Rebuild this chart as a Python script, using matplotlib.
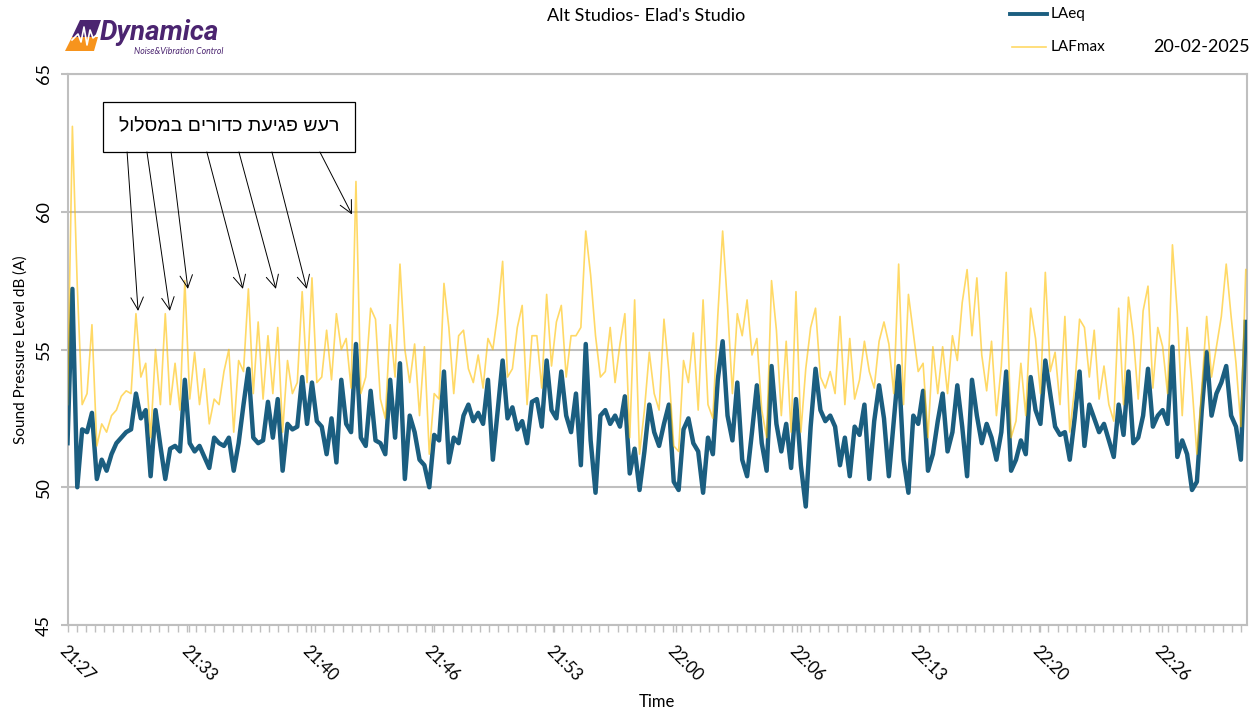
import numpy as np
import matplotlib.pyplot as plt
from matplotlib.lines import Line2D
from matplotlib.patches import Polygon

plt.rcParams['font.family'] = ['Lato', 'DejaVu Sans']

W, H = 1259, 713

# === DATA (one sample every 16 s from 21:27) ===
step_s = 16
laeq = [
    51.6, 57.2, 50.0, 52.1, 52.0, 52.7, 50.3, 51.0, 50.6, 51.2,
    51.6, 51.8, 52.0, 52.1, 53.4, 52.5, 52.8, 50.4, 52.8, 51.5,
    50.3, 51.4, 51.5, 51.3, 53.9, 51.6, 51.3, 51.5, 51.1, 50.7,
    51.8, 51.6, 51.5, 51.8, 50.6, 51.6, 53.0, 54.3, 51.8, 51.6,
    51.7, 53.1, 51.8, 53.2, 50.6, 52.3, 52.1, 52.2, 54.0, 52.3,
    53.8, 52.4, 52.2, 51.2, 52.5, 50.9, 53.9, 52.3, 52.0, 55.2,
    51.8, 51.5, 53.5, 51.7, 51.6, 51.2, 53.9, 51.8, 54.5, 50.3,
    52.6, 52.0, 51.0, 50.8, 50.0, 51.9, 51.7, 54.2, 50.9, 51.8,
    51.6, 52.6, 53.0, 52.4, 52.7, 52.3, 53.9, 51.0, 52.8, 54.6,
    52.5, 52.9, 52.1, 52.4, 51.6, 53.1, 53.2, 52.2, 54.6, 52.8,
    52.5, 54.2, 52.6, 52.0, 53.4, 50.8, 55.2, 51.7, 49.8, 52.6,
    52.8, 52.3, 52.6, 52.2, 53.3, 50.5, 51.4, 49.9, 51.3, 53.0,
    52.0, 51.5, 52.3, 53.0, 50.2, 49.9, 52.1, 52.5, 51.6, 51.3,
    49.8, 51.8, 51.2, 53.9, 55.3, 52.6, 51.7, 53.8, 51.0, 50.4,
    52.0, 53.7, 51.6, 50.6, 54.4, 52.3, 51.3, 52.3, 50.7, 53.2,
    50.8, 49.3, 52.2, 54.3, 52.8, 52.4, 52.6, 52.2, 50.8, 51.8,
    50.4, 52.2, 51.9, 53.0, 50.3, 52.4, 53.7, 52.5, 50.4, 52.4,
    54.4, 51.0, 49.8, 52.6, 52.3, 53.5, 50.6, 51.2, 52.4, 53.4,
    51.3, 52.0, 53.7, 52.2, 50.4, 53.9, 52.6, 51.6, 52.3, 51.8,
    51.0, 52.0, 54.2, 50.6, 51.0, 51.7, 51.2, 54.0, 52.8, 52.3,
    54.6, 53.4, 52.2, 51.9, 52.0, 51.0, 52.5, 54.2, 51.5, 53.0,
    52.5, 52.0, 52.3, 51.7, 51.1, 53.0, 51.9, 54.2, 51.6, 51.8,
    52.6, 54.3, 52.2, 52.6, 52.8, 52.3, 55.1, 51.1, 51.7, 51.2,
    49.9, 50.2, 52.8, 54.9, 52.6, 53.4, 53.8, 54.4, 52.6, 52.2,
    51.0, 56.0,
]
lafmax = [
    53.0, 63.1, 57.3, 53.0, 53.4, 55.9, 51.5, 52.3, 52.0, 52.6,
    52.8, 53.3, 53.5, 53.4, 56.3, 54.0, 54.5, 51.8, 55.0, 53.0,
    56.3, 53.0, 54.5, 52.8, 57.5, 53.2, 54.9, 53.0, 54.3, 52.3,
    53.2, 53.0, 54.2, 55.0, 52.0, 54.6, 54.2, 57.2, 53.4, 56.0,
    53.2, 55.5, 53.4, 55.8, 52.0, 54.6, 53.4, 53.8, 57.1, 53.8,
    57.6, 53.8, 54.0, 55.7, 53.9, 56.3, 55.0, 55.4, 53.6, 61.1,
    53.4, 54.0, 56.5, 56.1, 53.2, 52.5, 55.9, 54.0, 58.1, 55.0,
    53.8, 55.2, 52.6, 55.1, 51.2, 53.4, 53.2, 57.4, 55.8, 53.4,
    55.5, 55.7, 54.3, 53.8, 54.8, 53.6, 55.4, 55.0, 56.3, 58.2,
    54.0, 54.3, 55.8, 56.6, 53.0, 55.5, 55.5, 53.6, 57.0, 54.4,
    56.0, 56.6, 54.0, 55.5, 55.5, 55.8, 59.3, 57.7, 55.5, 54.0,
    54.2, 55.8, 53.8, 55.2, 56.3, 51.8, 56.8, 51.2, 52.8, 54.9,
    53.4, 52.8, 56.1, 54.2, 51.5, 51.3, 54.6, 53.8, 55.6, 52.8,
    56.8, 53.0, 52.5, 56.2, 59.3, 56.6, 53.4, 56.3, 55.5, 56.8,
    54.8, 55.4, 52.8, 51.8, 57.5, 55.7, 52.6, 55.3, 52.0, 57.1,
    52.0, 54.3, 55.8, 56.5, 54.0, 53.6, 54.2, 53.4, 56.2, 53.0,
    55.4, 53.2, 53.9, 55.3, 54.2, 53.6, 55.3, 56.0, 55.2, 53.4,
    58.1, 53.0, 57.0, 55.6, 54.2, 54.5, 51.8, 55.1, 53.4, 55.1,
    53.4, 55.5, 54.6, 56.7, 57.9, 55.5, 57.6, 54.8, 53.5, 55.3,
    52.6, 54.4, 57.8, 51.8, 52.4, 54.5, 52.6, 56.5, 55.4, 53.4,
    57.8, 54.2, 54.9, 53.0, 56.2, 52.0, 53.6, 56.1, 55.8, 54.0,
    55.7, 53.2, 54.4, 53.0, 52.4, 56.5, 53.0, 56.9, 55.5, 53.2,
    56.4, 57.3, 53.6, 55.8, 55.1, 53.4, 58.8, 56.3, 52.6, 55.8,
    53.7, 51.2, 53.6, 56.2, 54.0, 55.1, 56.2, 58.1, 56.2, 54.5,
    52.2, 57.9,
]
tick_labels = ['21:27', '21:33', '21:40', '21:46', '21:53',
               '22:00', '22:06', '22:13', '22:20', '22:26']
label_step_s = 398
y_ticks = [45, 50, 55, 60, 65]

note_text = 'רעש פגיעת כדורים במסלול'
# arrow tips (seconds, dB) of the marked ball-impact peaks
note_tips_t = [231, 335, 394, 574, 682, 783, 931]
note_tips_db = [56.4, 56.4, 57.2, 57.2, 57.2, 57.2, 59.9]
note_tails_t = [195, 260, 339, 456, 561, 669, 826]

t = np.arange(len(laeq)) * step_s
GRID = '#BFBFBF'
C_EQ = '#1B5E80'
C_MAX = '#FFC000'


def fx(x):
    return x / W


def fy(y):
    return 1 - y / H


fig = plt.figure(figsize=(W / 100, H / 100), dpi=100)
ax = fig.add_axes([fx(67.5), fy(625), fx(1247) - fx(67.5), fy(74) - fy(625)])

ax.plot(t, laeq, color=C_EQ, lw=3.2, solid_joinstyle='round', zorder=3)
ax.plot(t, lafmax, color=C_MAX, lw=1.2, alpha=0.6, zorder=4)

ax.set_xlim(0, 3860)
ax.set_ylim(45, 65)
ax.set_yticks(y_ticks)
ax.grid(axis='y', color=GRID, lw=1.5)
ax.set_axisbelow(True)
for s in ax.spines.values():
    s.set_color(GRID)
    s.set_linewidth(1.5)

ax.set_xticks(np.arange(len(tick_labels)) * label_step_s)
ax.set_xticklabels(tick_labels, rotation=-45, ha='left', va='top',
                   rotation_mode='anchor', fontsize=12)
ax.set_xticks(np.arange(0, 3860, 30), minor=True)
ax.tick_params(axis='x', which='both', length=5, color=GRID, width=1, pad=8)
ax.tick_params(axis='y', length=5, color=GRID, width=1.5, labelsize=13,
               labelrotation=90, pad=6)
for lab in ax.get_yticklabels():
    lab.set_va('center')

ax.set_xlabel('Time', fontsize=12)
ax.xaxis.set_label_coords(0.5, -0.125)
ax.set_ylabel('Sound Pressure Level dB (A)', fontsize=11, labelpad=6)

# annotation box + arrows
x0 = 116
ax.text(528, 63.07, note_text[::-1], fontsize=14, ha='center', va='center',
        family=['Liberation Sans', 'DejaVu Sans'], zorder=6)
ax.add_patch(plt.Rectangle((x0, 62.17), 940 - x0, 63.98 - 62.17, fc='white',
                           ec='black', lw=0.9, zorder=5))
for tt, tx, ty in zip(note_tails_t, note_tips_t, note_tips_db):
    ax.annotate('', xy=(tx, ty), xytext=(tt, 62.17),
                arrowprops=dict(arrowstyle='->,head_length=0.9,head_width=0.45',
                                color='black', lw=0.7, shrinkA=0, shrinkB=0),
                zorder=6)

# title, legend, date
fig.text(fx(646), fy(16), "Alt Studios- Elad's Studio", fontsize=13,
         ha='center', va='center')
fig.add_artist(Line2D([fx(1010), fx(1047)], [fy(14), fy(14)], color=C_EQ, lw=2.8))
fig.text(fx(1051), fy(14), 'LAeq', fontsize=11, va='center')
fig.add_artist(Line2D([fx(1012), fx(1046)], [fy(47), fy(47)], color='#FFD966', lw=1.2))
fig.text(fx(1051), fy(47), 'LAFmax', fontsize=11, va='center')
fig.text(fx(1153), fy(47), '20-02-2025', fontsize=13, va='center')

# logo
purple = '#4B2470'
orange = '#F7941D'
fig.add_artist(Polygon([(fx(72), fy(37)), (fx(80), fy(20)), (fx(101), fy(20)),
                        (fx(95), fy(37))], closed=True, fc=purple, ec='none'))
fig.add_artist(Polygon([(fx(65), fy(51)), (fx(72), fy(37)), (fx(98), fy(37)),
                        (fx(94), fy(51))], closed=True, fc=orange, ec='none'))
fig.add_artist(Line2D([fx(72), fx(78), fx(81), fx(84), fx(87), fx(90), fx(93), fx(99)],
                      [fy(40), fy(34), fy(42), fy(27), fy(45), fy(30), fy(38), fy(33)],
                      color='white', lw=1.2))
fig.text(fx(100), fy(40), 'Dynamica', fontsize=20, fontweight='bold',
         style='italic', color=purple, va='baseline', family=['Roboto', 'DejaVu Sans'])
fig.text(fx(134), fy(51), 'Noise&Vibration Control', fontsize=6.3,
         style='italic', color=purple, va='center')

fig.savefig('out.png', dpi=100)
